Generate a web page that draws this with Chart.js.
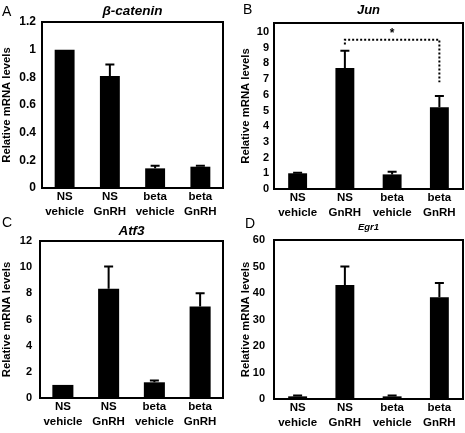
<!DOCTYPE html>
<html>
<head>
<meta charset="utf-8">
<script src="https://cdn.jsdelivr.net/npm/chart.js@4.4.1/dist/chart.umd.min.js"></script>
<style>
  body { margin: 0; background: #fff; }
  #wrap { position: relative; width: 465px; height: 433px; }
  .panel { position: absolute; }
</style>
</head>
<body>
<div id="wrap">
  <div class="panel" style="left:0;top:0;width:232px;height:216px"><canvas id="chartA"></canvas></div>
  <div class="panel" style="left:232px;top:0;width:233px;height:216px"><canvas id="chartB"></canvas></div>
  <div class="panel" style="left:0;top:216px;width:232px;height:217px"><canvas id="chartC"></canvas></div>
  <div class="panel" style="left:232px;top:216px;width:233px;height:217px"><canvas id="chartD"></canvas></div>
</div>
<script>
// groups on the x axis (two line labels)
const groups = [['NS', 'vehicle'], ['NS', 'GnRH'], ['beta', 'vehicle'], ['beta', 'GnRH']];

// relative mRNA levels, mean and upper error (SEM)
const cateninMean = [1.0, 0.81, 0.142, 0.154];
const cateninErr  = [0, 0.083, 0.018, 0.006];
const junMean  = [1.0, 7.7, 0.93, 5.2];
const junErr   = [0.04, 1.1, 0.17, 0.72];
const atf3Mean = [1.0, 8.35, 1.2, 7.0];
const atf3Err  = [0, 1.7, 0.14, 1.0];
const egr1Mean = [1.0, 43.0, 1.0, 38.4];
const egr1Err  = [0.3, 7.0, 0.3, 5.4];

// y tick labels per panel
const cateninTicks = [0, 0.2, 0.4, 0.6, 0.8, 1, 1.2];
const junTicks  = [0, 1, 2, 3, 4, 5, 6, 7, 8, 9, 10];
const atf3Ticks = [0, 2, 4, 6, 8, 10, 12];
const egr1Ticks = [0, 10, 20, 30, 40, 50, 60];

// significance bracket in Jun panel: from group 1 to group 3
const junBracket = { from: 1, to: 3, level: 9.5, leftEnd: 9.2, rightEnd: 6.8, label: '*' };

const FONT = '"Liberation Sans", Arial, sans-serif';

const panelPlugin = {
    id: 'panelExtras',
    afterDatasetsDraw(chart) {
        const ex = chart.options.plugins.panelExtras;
        const ctx = chart.ctx, y = chart.scales.y, meta = chart.getDatasetMeta(0);
        ctx.save();
        ctx.strokeStyle = '#000';
        ctx.lineWidth = 2;
        ex.errors.forEach((e, i) => {
            if (!e) return;
            const bar = meta.data[i];
            const top = y.getPixelForValue(ex.means[i] + e);
            ctx.beginPath();
            ctx.moveTo(bar.x, y.getPixelForValue(ex.means[i]));
            ctx.lineTo(bar.x, top);
            ctx.moveTo(bar.x - 4.5, top);
            ctx.lineTo(bar.x + 4.5, top);
            ctx.stroke();
        });
        ctx.restore();
    },
    afterDraw(chart) {
        const ex = chart.options.plugins.panelExtras;
        const ctx = chart.ctx, a = chart.chartArea;
        ctx.save();
        // frame round the plot
        ctx.strokeStyle = '#000';
        ctx.lineWidth = 2;
        ctx.strokeRect(a.left, a.top, a.right - a.left, a.bottom - a.top);

        ctx.fillStyle = '#000';
        ctx.textBaseline = 'middle';
        ctx.textAlign = 'left';
        ctx.font = '14px ' + FONT;
        ctx.fillText(ex.letter, ex.letterX, ex.letterY);

        ctx.textAlign = 'center';
        ctx.font = 'italic bold ' + ex.titleSize + 'px ' + FONT;
        ctx.fillText(ex.title, (a.left + a.right) / 2, ex.titleY);

        if (ex.bracket) {
            const b = ex.bracket, y = chart.scales.y, meta = chart.getDatasetMeta(0);
            const x1 = meta.data[b.from].x, x2 = meta.data[b.to].x;
            const yl = y.getPixelForValue(b.level);
            ctx.setLineDash([2, 2]);
            ctx.beginPath();
            ctx.moveTo(x1, y.getPixelForValue(b.leftEnd));
            ctx.lineTo(x1, yl);
            ctx.lineTo(x2, yl);
            ctx.lineTo(x2, y.getPixelForValue(b.rightEnd));
            ctx.stroke();
            ctx.setLineDash([]);
            ctx.font = 'bold 12px ' + FONT;
            ctx.fillText(b.label, (x1 + x2) / 2, yl - 6);
        }
        ctx.restore();
    }
};

let makePanel = (id, p) => {
    return new Chart(document.getElementById(id), {
        type: 'bar',
        data: {
            labels: groups,
            datasets: [{
                data: p.means,
                backgroundColor: '#000',
                borderWidth: 0,
                barPercentage: p.barPct,
                categoryPercentage: 1
            }]
        },
        options: {
            responsive: true,
            maintainAspectRatio: false,
            animation: false,
            devicePixelRatio: 1,
            layout: { padding: { left: 0, top: p.top, right: p.right, bottom: 0 } },
            plugins: {
                legend: { display: false },
                tooltip: { enabled: false },
                panelExtras: {
                    letter: p.letter, letterX: p.letterX, letterY: p.letterY,
                    title: p.title, titleSize: p.titleSize, titleY: p.titleY,
                    means: p.means, errors: p.errors, bracket: p.bracket
                }
            },
            scales: {
                x: {
                    grid: { display: false, drawTicks: false },
                    border: { display: false },
                    ticks: { color: '#000', padding: 1, maxRotation: 0, autoSkip: false,
                             font: { family: FONT, size: 11.5, weight: 'bold', lineHeight: 1.3 } },
                    afterFit: (s) => { s.height = p.xHeight; }
                },
                y: {
                    min: 0,
                    max: p.max,
                    grid: { display: false, drawTicks: false },
                    border: { display: false },
                    afterBuildTicks: (s) => { s.ticks = p.ticks.map(v => ({ value: v })); },
                    ticks: { color: '#000', padding: p.tickPad, callback: (v) => String(v),
                             font: { family: FONT, size: p.tickSize, weight: 'bold' } },
                    title: { display: true, text: 'Relative mRNA levels', color: '#000',
                             padding: { top: p.titlePad, bottom: 0 },
                             font: { family: FONT, size: 11.3, weight: 'bold' } },
                    afterFit: (s) => { s.width = p.yWidth; }
                }
            }
        },
        plugins: [panelPlugin]
    });
};

makePanel('chartA', {
    means: cateninMean, errors: cateninErr, ticks: cateninTicks, max: 1.2,
    letter: 'A', letterX: 2, letterY: 12, title: '\u03B2-catenin', titleSize: 13.5, titleY: 11,
    top: 22, right: 9, xHeight: 28, yWidth: 42, tickPad: 6, tickSize: 12, titlePad: 0, barPct: 0.44
});
makePanel('chartB', {
    means: junMean, errors: junErr, ticks: junTicks, max: 10.57, bracket: junBracket,
    letter: 'B', letterX: 11, letterY: 10, title: 'Jun', titleSize: 13, titleY: 10,
    top: 23, right: 2, xHeight: 27, yWidth: 42, tickPad: 5, tickSize: 11, titlePad: 7, barPct: 0.4
});
makePanel('chartC', {
    means: atf3Mean, errors: atf3Err, ticks: atf3Ticks, max: 12,
    letter: 'C', letterX: 2, letterY: 7, title: 'Atf3', titleSize: 13.5, titleY: 15,
    top: 25, right: 9, xHeight: 35, yWidth: 40, tickPad: 8, tickSize: 11, titlePad: 0, barPct: 0.46
});
makePanel('chartD', {
    means: egr1Mean, errors: egr1Err, ticks: egr1Ticks, max: 60,
    letter: 'D', letterX: 13, letterY: 8, title: 'Egr1', titleSize: 9.5, titleY: 11,
    top: 24, right: 2, xHeight: 34, yWidth: 42, tickPad: 9, tickSize: 11, titlePad: 7, barPct: 0.4
});
</script>
</body>
</html>
